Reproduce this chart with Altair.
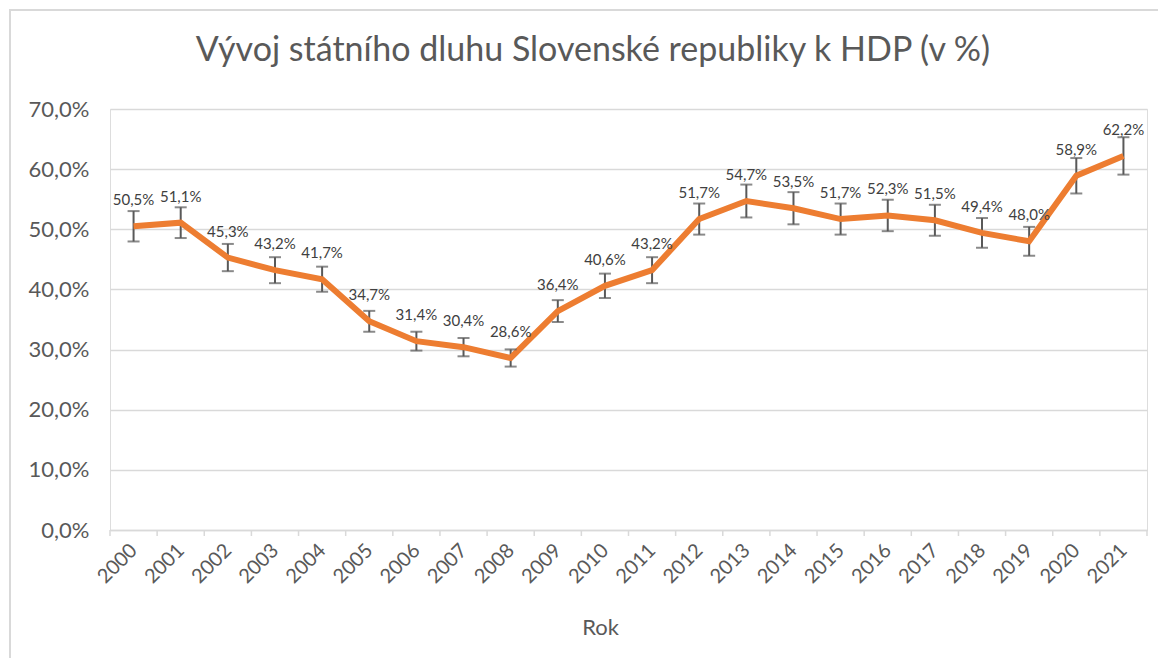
import altair as alt
import pandas as pd

years = list(range(2000, 2022))
debt = [50.5, 51.1, 45.3, 43.2, 41.7, 34.7, 31.4, 30.4, 28.6, 36.4, 40.6, 43.2,
        51.7, 54.7, 53.5, 51.7, 52.3, 51.5, 49.4, 48.0, 58.9, 62.2]
err_pct = 5  # Excel percentage error bars (5 %)
title_text = "Vývoj státního dluhu Slovenské republiky k HDP (v %)"
y_ticks = [0, 10, 20, 30, 40, 50, 60, 70]

df = pd.DataFrame({"year": years, "debt": debt})
df["lo"] = df["debt"] * (1 - err_pct / 100)
df["hi"] = df["debt"] * (1 + err_pct / 100)
df["label"] = df["debt"].map(lambda v: f"{v:.1f}%".replace(".", ","))
bounds = pd.DataFrame({"b": [y - 0.5 for y in years] + [years[-1] + 0.5]})

FONT = "Lato"
TXT = "#595959"
W, H = 1037, 421

xscale = alt.Scale(domain=[years[0] - 0.5, years[-1] + 0.5], nice=False, zero=False)
yscale = alt.Scale(domain=[0, 70], nice=False)

base = alt.Chart(df)

x_axis = alt.Axis(values=years, format="d", labelAngle=-45, labelAlign="right",
                  labelBaseline="middle", labelFontSize=20, labelColor=TXT, labelFont=FONT,
                  tickSize=0, labelPadding=17, domainColor="#d9d9d9", domainWidth=1.5,
                  grid=False, title="Rok", titleFontSize=22, titleColor=TXT, titleFont=FONT,
                  titleFontWeight="normal", titleX=490, titleY=97, titleBaseline="middle")
y_axis = alt.Axis(values=y_ticks, labelExpr="replace(format(datum.value, '.1f'), '.', ',') + '%'",
                  labelFontSize=22, labelColor=TXT, labelFont=FONT, tickSize=0, labelPadding=21,
                  domain=False, gridColor="#d9d9d9", gridWidth=1.5, title=None)

line = base.mark_line(color="#ED7D31", strokeWidth=6, strokeJoin="miter").encode(
    x=alt.X("year:Q", scale=xscale, axis=x_axis),
    y=alt.Y("debt:Q", scale=yscale, axis=y_axis),
)

errs = base.mark_rule(color="#595959", strokeWidth=2).encode(
    x="year:Q", y="lo:Q", y2="hi:Q")
cap_hi = base.mark_tick(color="#595959", thickness=2, size=12, orient="horizontal").encode(
    x="year:Q", y="hi:Q")
cap_lo = base.mark_tick(color="#595959", thickness=2, size=12, orient="horizontal").encode(
    x="year:Q", y="lo:Q")

labels = base.mark_text(fontSize=15, font=FONT, color="#404040", baseline="alphabetic",
                        dy=-21).encode(x="year:Q", y="debt:Q", text="label:N")

ticks = alt.Chart(bounds).mark_rule(color="#d9d9d9", strokeWidth=1.5).encode(
    x=alt.X("b:Q", scale=xscale), y=alt.value(H), y2=alt.value(H + 6))

one = pd.DataFrame({"t": [title_text]})
title = alt.Chart(one).mark_text(fontSize=34, font=FONT, color=TXT, baseline="middle",
                                 align="center").encode(
    x=alt.value(483), y=alt.value(-58), text="t:N")
border = alt.Chart(one).mark_rect(fill="transparent", stroke="#d9d9d9", strokeWidth=2).encode(
    x=alt.value(-100), x2=alt.value(1200), y=alt.value(-99), y2=alt.value(700))

chart = alt.layer(border, title, ticks, errs, line, cap_hi, cap_lo, labels).properties(
    width=W, height=H,
    padding={"left": 102, "top": 101, "right": 11, "bottom": 128},
    autosize=alt.AutoSizeParams(type="none"),
).configure_view(stroke=None).configure(background="white")

chart.save("out.html", embed_options={"renderer": "svg", "actions": False})
